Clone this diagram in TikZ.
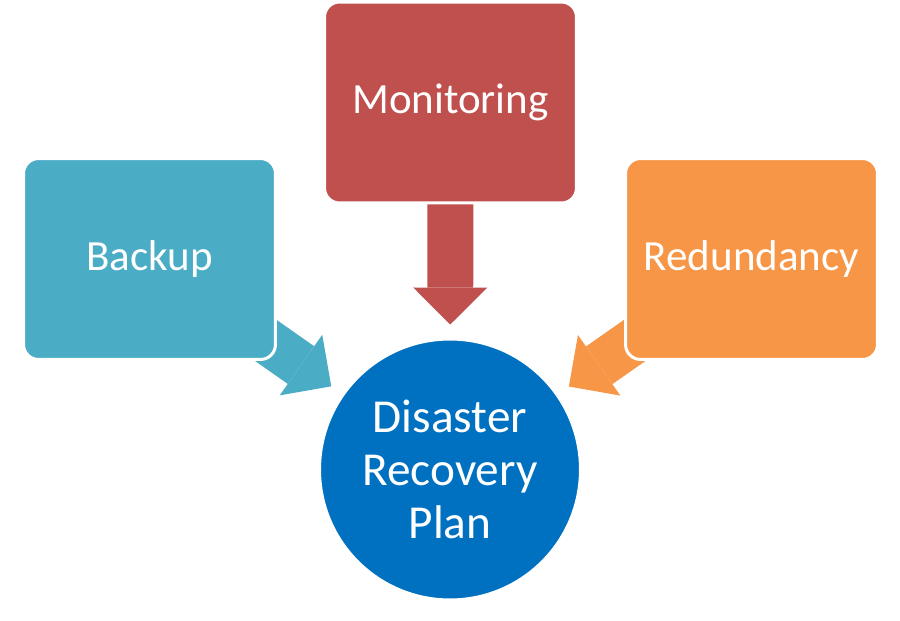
\documentclass[tikz,border=0pt]{standalone}
\usepackage{fontspec}
\setmainfont{Carlito}
\usetikzlibrary{arrows.meta, backgrounds}

\definecolor{monred}{HTML}{C0504D}
\definecolor{backteal}{HTML}{4BACC6}
\definecolor{redorange}{HTML}{F79646}
\definecolor{planblue}{HTML}{0070C0}

\begin{document}
\begin{tikzpicture}[x=0.02cm, y=-0.02cm,
        box/.style={rectangle, draw=white, line width=0.06cm, rounded corners=0.3cm, minimum width=5.04cm, minimum height=4.02cm, text=white, font=\fontsize{24.5}{28}\selectfont},
        plan/.style={circle, draw=white, line width=0.06cm, fill=planblue, minimum size=5.22cm, text=white, align=center, font=\fontsize{26.9}{30.1}\selectfont},
        arrow/.style={line width=0.92cm, -{Triangle[length=0.74cm, width=1.48cm, line width=0pt]}, shorten >=0.26cm, shorten <=-1cm}
    ]
        \useasboundingbox (0,0) rectangle (900,620);

        % Sources
        \node[box, fill=monred] (mon) at (450.5,102.5) {Monitoring};
        \node[box, fill=backteal] (backup) at (149.5,259) {Backup};
        \node[box, fill=redorange] (redund) at (751.5,259) {Redundancy};

        % Plan
        \node[plan] (drp) at (450,469.5) {Disaster\\Recovery\\Plan};

        % Arrows
        \begin{scope}[on background layer]
            \draw[arrow, monred] (mon) -- (drp);
            \draw[arrow, backteal] (backup) -- (drp);
            \draw[arrow, redorange] (redund) -- (drp);
        \end{scope}

    \end{tikzpicture}
\end{document}
